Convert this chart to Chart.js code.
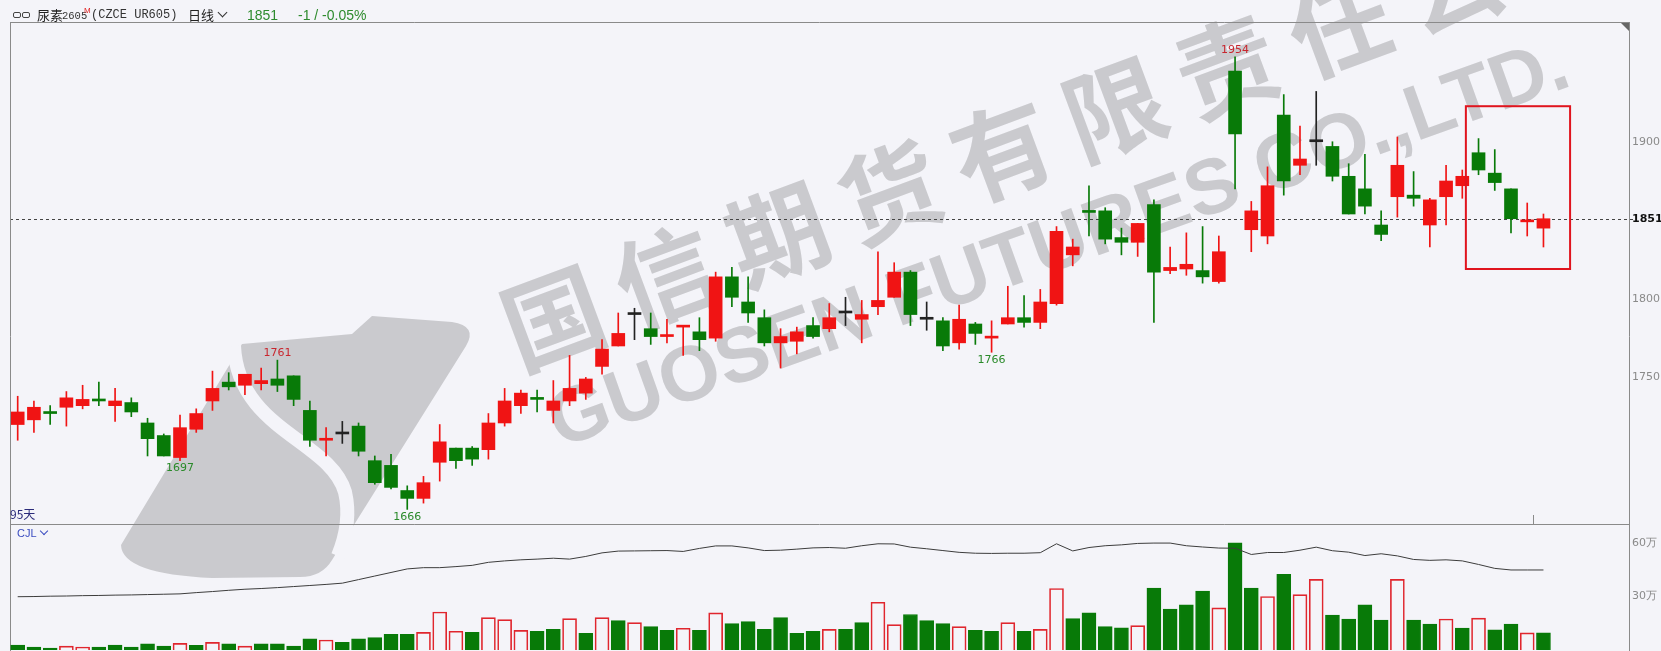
<!DOCTYPE html>
<html>
<head>
<meta charset="utf-8">
<title>尿素2605 日线</title>
<script src="https://cdn.jsdelivr.net/npm/chart.js@4.4.1/dist/chart.umd.min.js"></script>
<style>
  html, body { margin: 0; padding: 0; background: #f4f4f9; }
  #wrap { position: relative; width: 1661px; height: 651px; overflow: hidden; background: #f4f4f9; }
  #mainChart { position: absolute; left: 0; top: 0; }
  #volChart { position: absolute; left: 0; top: 524px; }
  .t { position: absolute; top: 6px; line-height: 18px; white-space: nowrap; color: #222; }
  .cn { font-family: "Noto Sans CJK SC", sans-serif; font-size: 13px; }
  .mono { font-family: "Liberation Mono", monospace; font-size: 12px; color: #333; }
  .num { font-family: "Liberation Sans", Arial, sans-serif; font-size: 14px; color: #2e8b2e; }
  .chev { display: inline-block; width: 6px; height: 6px; border-right: 1.5px solid #333; border-bottom: 1.5px solid #333; transform: rotate(45deg); margin: 0 0 4px 5px; }
  .ico { position: absolute; top: 12px; width: 6px; height: 4px; border: 1.5px solid #444; border-radius: 2px; }
</style>
</head>
<body>
<div id="wrap">
  <canvas id="mainChart" width="1661" height="651"></canvas>
  <canvas id="volChart" width="1661" height="127"></canvas>

  <span class="ico" style="left:13px"></span>
  <span class="ico" style="left:22px"></span>
  <span class="t cn" style="left:37px">尿素</span>
  <span class="t" style="left:62px;top:7px;font-family:'Liberation Mono',monospace;font-size:10.5px;color:#333">2605</span>
  <span class="t" style="left:84px;top:2px;font-family:'Liberation Sans';font-size:8px;color:#e02020">M</span>
  <span class="t mono" style="left:91px">(CZCE UR605)</span>
  <span class="t cn" style="left:188px">日线<span class="chev"></span></span>
  <span class="t num" style="left:247px">1851</span>
  <span class="t num" style="left:298px">-1 / -0.05%</span>
  <span id="dayCount" class="cn" style="position:absolute;left:10px;top:506px;font-size:12px;color:#2b2b7a;line-height:16px"></span>
  <span style="position:absolute;left:17px;top:526px;font-family:'Liberation Sans';font-size:11px;color:#3a4cc0;line-height:14px">CJL<span class="chev" style="border-color:#3a4cc0;width:5px;height:5px;margin-left:4px;margin-bottom:3px"></span></span>
</div>

<script>
// daily candles, oldest first
const opens  = [1720,1723,1728,1731,1732,1736,1732,1734,1721,1713, 1699,1717,1735,1747,1745,1746,1749,1751,1729,1710,
                1714,1719,1697,1694,1678,1673,1696,1705,1705,1704, 1721,1732,1737,1729,1735,1740,1757,1770,1790,1781,
                1776,1782,1779,1775,1814,1798,1788,1772,1773,1783, 1781,1791,1787,1795,1801,1817,1787,1786,1772,1784,
                1775,1784,1788,1785,1797,1828,1856,1856,1839,1836, 1860,1818,1819,1818,1811,1945,1844,1840,1917,1885,
                1900,1897,1878,1870,1847,1865,1866,1847,1865,1872, 1893,1880,1870,1849,1845];
const highs  = [1738,1735,1732,1741,1745,1747,1743,1737,1724,1714, 1726,1730,1754,1753,1752,1756,1761,1751,1735,1718,
                1722,1721,1700,1701,1681,1687,1720,1705,1706,1727, 1743,1742,1742,1748,1764,1750,1774,1791,1794,1791,
                1787,1783,1788,1817,1820,1814,1793,1781,1782,1788, 1797,1801,1799,1830,1823,1818,1798,1788,1796,1785,
                1786,1808,1802,1806,1846,1838,1872,1858,1845,1848, 1863,1833,1842,1846,1840,1954,1862,1884,1930,1910,
                1932,1900,1886,1892,1856,1903,1881,1864,1885,1882, 1902,1895,1870,1861,1854];
const lows   = [1710,1715,1720,1719,1730,1732,1722,1725,1700,1700, 1697,1715,1729,1742,1739,1742,1741,1732,1706,1700,
                1708,1700,1682,1679,1666,1670,1684,1692,1694,1698, 1719,1727,1728,1721,1732,1736,1752,1770,1774,1771,
                1772,1764,1767,1773,1795,1785,1770,1756,1765,1775, 1779,1783,1772,1790,1801,1783,1780,1767,1768,1771,
                1766,1784,1782,1781,1796,1821,1840,1835,1828,1827, 1785,1816,1815,1810,1810,1870,1830,1835,1866,1879,
                1885,1875,1854,1854,1837,1852,1859,1833,1847,1864, 1879,1869,1842,1840,1833];
const closes = [1728,1731,1727,1737,1736,1735,1735,1728,1711,1700, 1718,1727,1743,1744,1752,1748,1745,1736,1710,1711,
                1714,1703,1683,1680,1673,1683,1709,1697,1698,1721, 1735,1740,1736,1735,1743,1749,1768,1778,1790,1776,
                1777,1783,1774,1814,1801,1791,1772,1776,1779,1776, 1788,1791,1790,1799,1817,1790,1787,1770,1787,1778,
                1776,1788,1785,1798,1843,1833,1855,1838,1836,1848, 1817,1820,1822,1814,1830,1905,1856,1872,1875,1889,
                1900,1878,1854,1859,1841,1885,1864,1863,1875,1878, 1882,1874,1851,1850,1851];

// volume (万手), colour flag as drawn (u = red hollow, d = green)
const volumes = [2.8,1.7,1.1,2.2,1.7,1.7,2.8,1.7,3.4,2.2, 3.7,2.6,4.3,3.4,2.2,3.4,3.4,2.2,6.2,5.6,
                 4.3,6.2,6.9,8.8,8.8,9.9,21.3,10.5,9.9,18.2, 17.0,11.0,10.5,11.6,17.6,9.4,18.2,16.5,15.4,13.1,
                 11.0,12.2,11.0,20.8,14.8,15.9,11.6,18.2,9.4,10.5, 11.6,11.6,15.4,26.8,14.2,19.9,16.5,14.8,13.1,11.0,
                 10.5,15.4,10.5,11.6,34.5,17.6,20.8,13.1,12.5,13.7, 34.8,23.0,25.3,33.0,23.6,60.2,34.7,30.0,42.5,31.1,
                 39.6,19.6,17.4,25.3,16.8,39.6,16.8,14.5,17.4,12.3, 17.9,11.3,14.5,9.6,9.6];
const volDir = ['d','d','d','u','u','d','d','d','d','d', 'u','d','u','d','u','d','d','d','d','u',
                'd','d','d','d','d','u','u','u','d','u', 'u','u','d','d','u','d','u','d','u','d',
                'd','u','d','u','d','d','d','d','d','d', 'u','d','d','u','u','d','d','d','u','d',
                'd','u','d','u','u','d','d','d','d','u', 'd','d','d','d','u','d','d','u','d','u',
                'u','d','d','d','d','u','d','d','u','d', 'u','d','d','u','d'];
// open interest (万手)
const openInterest = [29.9,30.0,30.2,30.3,30.5,30.6,30.8,30.9,31.1,31.3, 31.5,32.2,32.8,33.5,34.1,34.5,35.0,35.6,36.2,36.8,
                      37.5,39.5,41.5,43.5,45.5,46.2,46.2,46.8,47.5,49.2, 50.0,50.6,51.0,51.5,51.0,52.5,54.5,55.5,55.6,55.7,
                      55.8,55.3,57.0,58.4,58.4,57.3,55.8,56.0,56.6,57.3, 57.5,57.1,58.5,59.6,59.5,57.7,56.8,55.8,54.8,54.3,
                      54.2,54.3,54.3,54.6,59.6,55.6,57.5,58.5,59.0,59.8, 60.0,60.0,58.5,57.8,57.2,57.1,53.6,54.7,54.7,56.0,
                      57.7,55.7,54.9,53.0,54.0,52.8,50.8,50.3,50.6,50.0, 48.0,45.8,44.9,44.9,44.9];

const priceTicks = [1750, 1800, 1851, 1900];
const volTicks = [30, 60];
const lastPrice = 1851;
const highMarks = [16, 75];
const lowMarks = [10, 24, 60];

const RED = '#f01414', GREEN = '#087a08', FLAT = '#222';
const dayIdx = opens.map((_, i) => i);

document.getElementById('dayCount').textContent = opens.length + '天';

function candleColor(i) {
  if (closes[i] > opens[i]) return RED;
  if (closes[i] < opens[i]) return GREEN;
  return FLAT;
}

function drawWatermark(ctx) {
  ctx.save();
  ctx.fillStyle = '#cacace';
  // logo
  ctx.beginPath();
  ctx.moveTo(242, 344);
  ctx.lineTo(352, 334);
  ctx.lineTo(372, 316);
  ctx.lineTo(452, 322);
  ctx.quadraticCurveTo(478, 326, 466, 346);
  ctx.lineTo(332, 560);
  ctx.quadraticCurveTo(322, 577, 300, 577);
  ctx.lineTo(212, 578);
  ctx.quadraticCurveTo(122, 574, 121, 545);
  ctx.closePath();
  ctx.fill();
  ctx.strokeStyle = '#f4f4f9';
  ctx.lineWidth = 14;
  ctx.beginPath();
  ctx.moveTo(234, 346);
  ctx.bezierCurveTo(238, 430, 330, 440, 345, 492);
  ctx.quadraticCurveTo(352, 522, 338, 556);
  ctx.stroke();

  // company name
  const cn = '国信期货有限责任公司';
  ctx.font = 'bold 100px "Noto Sans CJK SC"';
  ctx.textAlign = 'center';
  ctx.textBaseline = 'middle';
  for (let k = 0; k < cn.length; k++) {
    ctx.save();
    ctx.translate(553 + 112.3 * k, 318 - 41.8 * k);
    ctx.rotate(-20.4 * Math.PI / 180);
    ctx.fillText(cn[k], 0, 0);
    ctx.restore();
  }
  ctx.save();
  ctx.translate(552, 428);
  ctx.rotate(-19.7 * Math.PI / 180);
  ctx.font = 'bold 78px "Liberation Sans"';
  ctx.textAlign = 'left';
  ctx.fillText('GUOSEN FUTURES CO.,LTD.', 0, 0);
  ctx.restore();
  ctx.restore();
}

const panelPlugin = {
  id: 'panel',
  beforeDraw(chart) {
    drawWatermark(chart.ctx);
  },
  beforeDatasetsDraw(chart) {
    const { ctx, chartArea, scales } = chart;
    const y = Math.round(scales.y.getPixelForValue(lastPrice)) + 0.5;
    ctx.save();
    ctx.strokeStyle = '#444';
    ctx.lineWidth = 1;
    ctx.setLineDash([3, 3]);
    ctx.beginPath();
    ctx.moveTo(chartArea.left, y);
    ctx.lineTo(chartArea.right + 4, y);
    ctx.stroke();
    ctx.restore();
  },
  afterDatasetsDraw(chart) {
    const { ctx, chartArea, scales } = chart;
    const xs = scales.x, ys = scales.y;
    ctx.save();
    ctx.font = '11px "DejaVu Sans"';
    ctx.textAlign = 'center';
    highMarks.forEach(i => {
      ctx.fillStyle = '#c8262e';
      ctx.textBaseline = 'bottom';
      ctx.fillText(String(highs[i]), xs.getPixelForValue(i), ys.getPixelForValue(highs[i]) - 1);
    });
    lowMarks.forEach(i => {
      ctx.fillStyle = '#2a8a2a';
      ctx.textBaseline = 'top';
      ctx.fillText(String(lows[i]), xs.getPixelForValue(i), ys.getPixelForValue(lows[i]) + 2);
    });

    // highlight box round the last sessions
    ctx.strokeStyle = '#e0141e';
    ctx.lineWidth = 2;
    const bx0 = xs.getPixelForValue(89.22), bx1 = xs.getPixelForValue(95.64);
    const by0 = ys.getPixelForValue(1922.6), by1 = ys.getPixelForValue(1819);
    ctx.strokeRect(bx0, by0, bx1 - bx0, by1 - by0);

    // frame
    ctx.strokeStyle = '#8a8a8a';
    ctx.lineWidth = 1;
    ctx.beginPath();
    ctx.moveTo(chartArea.left, chartArea.top + 0.5);
    ctx.lineTo(chartArea.right, chartArea.top + 0.5);
    ctx.moveTo(chartArea.left + 0.5, chartArea.top);
    ctx.lineTo(chartArea.left + 0.5, 651);
    ctx.moveTo(chartArea.right + 0.5, chartArea.top);
    ctx.lineTo(chartArea.right + 0.5, 651);
    ctx.moveTo(chartArea.left, chartArea.bottom + 0.5);
    ctx.lineTo(chartArea.right, chartArea.bottom + 0.5);
    ctx.stroke();
    ctx.beginPath();
    ctx.moveTo(1533.5, chartArea.bottom - 9);
    ctx.lineTo(1533.5, chartArea.bottom);
    ctx.stroke();
    ctx.fillStyle = '#666';
    ctx.beginPath();
    ctx.moveTo(chartArea.right - 8, chartArea.top + 1);
    ctx.lineTo(chartArea.right, chartArea.top + 1);
    ctx.lineTo(chartArea.right, chartArea.top + 9);
    ctx.closePath();
    ctx.fill();
    ctx.restore();
  }
};

const rightAxis = (min, max, ticks, fmt) => ({
  position: 'right',
  min: min,
  max: max,
  grid: { display: false, drawTicks: false },
  border: { display: false },
  afterFit: s => { s.width = 32; s.paddingTop = 0; s.paddingBottom = 0; },
  afterBuildTicks: s => { s.ticks = ticks.map(v => ({ value: v })); },
  ticks: {
    padding: 3,
    autoSkip: false,
    callback: fmt,
    color: ctx => (ctx.tick && ctx.tick.value === lastPrice && fmt === String) ? '#111' : '#8a8a8a',
    font: ctx => (ctx.tick && ctx.tick.value === lastPrice && fmt === String)
      ? { family: 'DejaVu Sans', size: 11, weight: 'bold' }
      : { family: 'DejaVu Sans', size: 11 }
  }
});

const xAxis = { type: 'linear', offset: false, min: -0.474, max: 99.27, display: false };

new Chart(document.getElementById('mainChart'), {
  type: 'bar',
  data: {
    datasets: [
      {
        label: 'wick',
        data: dayIdx.map(i => ({ x: i, y: [lows[i], highs[i]] })),
        backgroundColor: ctx => candleColor(ctx.dataIndex),
        barThickness: 1,
        grouped: false,
        order: 2
      },
      {
        label: 'body',
        data: dayIdx.map(i => ({ x: i, y: [opens[i], closes[i]] })),
        backgroundColor: ctx => candleColor(ctx.dataIndex),
        barThickness: 13,
        minBarLength: 2,
        grouped: false,
        order: 1
      }
    ]
  },
  options: {
    responsive: false,
    animation: false,
    devicePixelRatio: 1,
    layout: { padding: { left: 10, top: 22, bottom: 127, right: 0 } },
    plugins: { legend: { display: false }, tooltip: { enabled: false } },
    scales: {
      x: xAxis,
      y: rightAxis(1656.7, 1976.2, priceTicks, String)
    }
  },
  plugins: [panelPlugin]
});

new Chart(document.getElementById('volChart'), {
  type: 'bar',
  data: {
    datasets: [
      {
        type: 'line',
        label: 'OI',
        data: dayIdx.map(i => ({ x: i, y: openInterest[i] })),
        borderColor: '#3c3c3c',
        borderWidth: 1,
        pointRadius: 0,
        tension: 0,
        order: 0
      },
      {
        label: 'CJL',
        data: dayIdx.map(i => ({ x: i, y: volumes[i] })),
        backgroundColor: ctx => volDir[ctx.dataIndex] === 'u' ? 'rgba(0,0,0,0)' : GREEN,
        borderColor: ctx => volDir[ctx.dataIndex] === 'u' ? '#e0262e' : GREEN,
        borderWidth: 1,
        barThickness: 14,
        grouped: false,
        order: 1
      }
    ]
  },
  options: {
    responsive: false,
    animation: false,
    devicePixelRatio: 1,
    layout: { padding: { left: 10, top: 0, bottom: 0, right: 0 } },
    plugins: { legend: { display: false }, tooltip: { enabled: false } },
    scales: {
      x: xAxis,
      y: rightAxis(-0.56, 70.7, volTicks, v => v + '万')
    }
  }
});
</script>
</body>
</html>
